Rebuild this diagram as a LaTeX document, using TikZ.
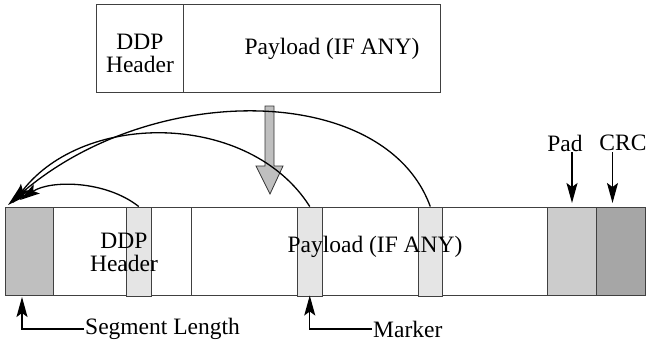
\documentclass[tikz,border=0pt]{standalone}
\usepackage{fontspec}
\setmainfont{Liberation Serif}
\usepackage{tikz}
\usetikzlibrary{positioning, arrows.meta}
\definecolor{seggray}{HTML}{BFBFBF}
\definecolor{markgray}{HTML}{E5E5E5}
\definecolor{padgray}{HTML}{CCCCCC}
\definecolor{crcgray}{HTML}{A6A6A6}
\tikzset{
	every node/.append style={
		font={\fontsize{23.5}{26}\selectfont},
	},
	field/.append style={
		draw=black!75,
		line width=1pt,
		anchor=north west,
		inner sep=0pt,
		minimum height=88pt,
	},
	marker/.append style={
		draw=black!75,
		line width=1pt,
		fill=markgray,
		anchor=north west,
		inner sep=0pt,
		minimum width=24.5pt,
		minimum height=89pt,
	},
	labe/.append style={
		align = center,
		inner sep=1pt,
	},
	arrowline/.style={
		line width=1.3pt,
		->,
	}
}

\begin{document}
\begin{tikzpicture}[x=1pt,y=-1pt, >={Stealth[length=20pt 0,width=11pt 0,inset=4pt 0]}]
\useasboundingbox (0,0) rectangle (647,346);
% upper frame
\node[field, minimum width=87pt] (thdr) at (96,4) {};
\node[field, minimum width=257pt] (tpay) at (183,4) {};
\node[labe] at ([yshift=-5pt]thdr.center) {DDP\\[-3pt]Header};
\node[labe] at (332,49) {Payload (IF ANY)};

% lower frame
\node[field, minimum width=48pt, fill=seggray] (seglen) at (5,207) {};
\node[field, minimum width=138pt] (hdr) at (53,207) {};
\node[field, minimum width=356pt] (pay) at (191,207) {};
\node[field, minimum width=49pt, fill=padgray] (pad) at (547,207) {};
\node[field, minimum width=49pt, fill=crcgray] (crc) at (596,207) {};
\node[marker] (mk1) at (126,206.5) {};
\node[marker] (mk2) at (297,206.5) {};
\node[marker] (mk3) at (417.5,206.5) {};
\node[labe] at (124,252) {DDP\\[-3pt]Header};
\node[labe] at (375,247) {Payload (IF ANY)};

% big arrow
\draw[line width=0.8pt, draw=black!80, fill=seggray] (265,106) -- (274,106) -- (274,166) -- (283,166)
	-- (270,194) -- (256,166) -- (265,166) -- cycle;

\draw[arrowline] (mk1.north) .. controls (105,180) and (50,180) .. ([shift={(15,-7)}]seglen.north west);
\draw[arrowline] (mk2.north) .. controls (250,112) and (85,110) .. ([shift={(8,-4)}]seglen.north west);
\draw[arrowline] (mk3.north) .. controls (385,82) and (150,80) .. ([shift={(3,-2)}]seglen.north west);

\node[labe] (padlab) at (565,143) {Pad};
\node[labe] (crclab) at (623,143) {CRC};
\coordinate (crcx) at ([xshift=-8.5pt]crc.north);
\draw[arrowline, shorten >=4pt] (padlab.south -| pad.north) -- (pad.north);
\draw[arrowline, shorten >=4pt] (crclab.south -| crcx) -- (crcx);

\node[labe, anchor=west] (seglab) at (84,329) {Segment Length};
\node[labe, anchor=west] (mklab) at (372,329) {Marker};
\coordinate (segtip) at (22,297);
\draw[arrowline] (seglab.west) -| (segtip);
\draw[arrowline] (mklab.west) -| ([yshift=1pt]mk2.south);
\end{tikzpicture}
\end{document}
